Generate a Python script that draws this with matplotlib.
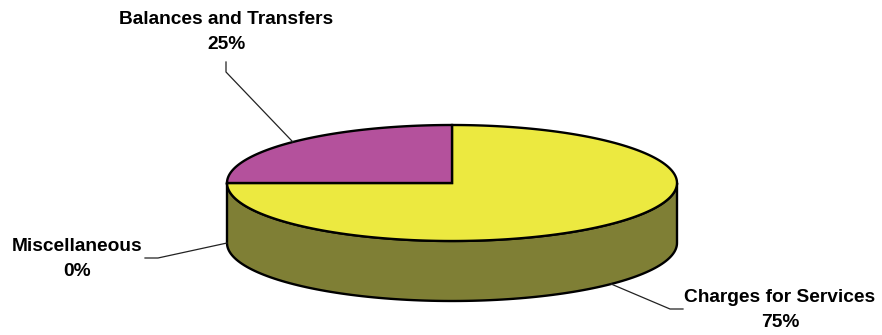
import numpy as np
import matplotlib
matplotlib.use("Agg")
import matplotlib.pyplot as plt
from matplotlib.patches import Polygon

# revenue shares, clockwise from 12 o'clock
categories = ["Charges for Services", "Miscellaneous", "Balances and Transfers"]
values = [75, 0, 25]

top_colors = ["#ECE940", "#6A8FC8", "#B4519C"]
side_colors = ["#7F7F35", "#3E5A85", "#6E2F5E"]

# pie geometry in pixels (screen coords, y down)
cx, cy = 452, 183
rx, ry = 225, 58
depth = 60

# label centre and leader elbow for each slice
label_pos = [(780, 310), (77, 259), (226, 32)]
elbows = [[(683, 309), (670, 309)], [(145, 258), (158, 258)], [(226, 62), (226, 72)]]

fig = plt.figure(figsize=(8.82, 3.35), dpi=100)
ax = fig.add_axes([0, 0, 1, 1])
ax.set_xlim(0, 882)
ax.set_ylim(335, 0)
ax.axis("off")


def pt(theta, dy=0):
    t = np.radians(theta)
    return cx + rx * np.cos(t), cy - ry * np.sin(t) + dy


total = sum(values)
angles = []
start = 90.0
for v in values:
    sweep = 360.0 * v / total
    angles.append((start, start - sweep))
    start -= sweep

# front side walls
for (a0, a1), sc, v in zip(angles, side_colors, values):
    if v == 0:
        continue
    # keep the part facing the viewer (-180..0)
    lo, hi = min(a0, a1), max(a0, a1)
    for shift in (-720, -360, 0, 360):
        s_lo, s_hi = max(lo + shift, -180), min(hi + shift, 0)
        if s_hi - s_lo <= 0:
            continue
        th = np.linspace(s_lo, s_hi, 120)
        upper = [pt(t) for t in th]
        lower = [pt(t, depth) for t in th[::-1]]
        ax.add_patch(Polygon(upper + lower, closed=True, facecolor=sc,
                             edgecolor="black", linewidth=1.7, joinstyle="round"))

# top faces
for (a0, a1), tc, v in zip(angles, top_colors, values):
    if v == 0:
        continue
    th = np.linspace(a0, a1, 240)
    verts = [(cx, cy)] + [pt(t) for t in th]
    ax.add_patch(Polygon(verts, closed=True, facecolor=tc,
                         edgecolor="black", linewidth=1.7, joinstyle="miter"))

# labels with leader lines
for name, v, (a0, a1), (lx, ly), elb in zip(categories, values, angles, label_pos, elbows):
    mid = (a0 + a1) / 2
    front = np.sin(np.radians(mid)) <= 1e-9
    ax_, ay_ = pt(mid, depth if front else 0)
    xs = [elb[0][0], elb[1][0], ax_]
    ys = [elb[0][1], elb[1][1], ay_]
    ax.plot(xs, ys, color="#222222", linewidth=0.9)
    pct = round(100 * v / total)
    ax.text(lx, ly, f"{name}\n{pct}%", ha="center", va="center",
            fontsize=13.8, fontweight="bold", family="Liberation Sans",
            linespacing=1.65, color="black")

fig.savefig("out.png", dpi=100)
